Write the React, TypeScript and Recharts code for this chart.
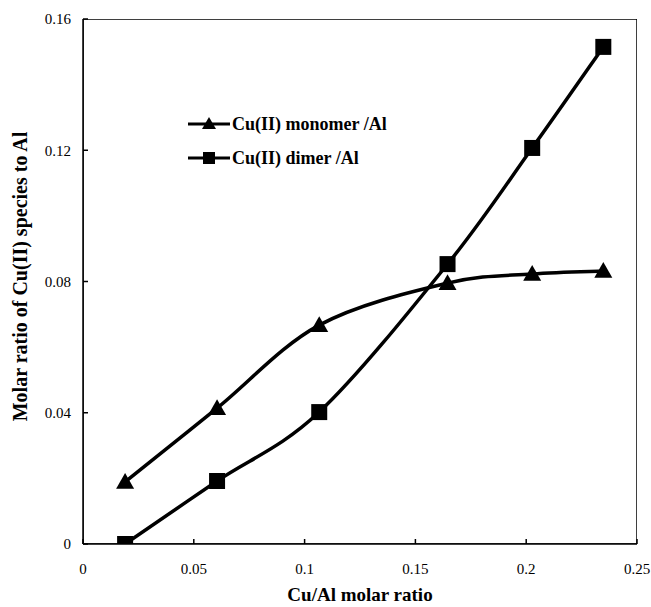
import React from "react";
import {
  LineChart,
  Line,
  XAxis,
  YAxis,
  ReferenceArea,
  Label,
} from "recharts";

const cuAlRatio = [0.019, 0.0605, 0.1066, 0.1645, 0.2027, 0.2348];
const monomer = [0.0189, 0.0414, 0.0667, 0.0795, 0.0823, 0.0832];
const dimer = [0.0, 0.0192, 0.0402, 0.0853, 0.1207, 0.1515];
const xTicks = [0, 0.05, 0.1, 0.15, 0.2, 0.25];
const yTicks = [0, 0.04, 0.08, 0.12, 0.16];
const seriesNames = ["Cu(II) monomer /Al", "Cu(II) dimer /Al"];

const data = cuAlRatio.map((x, i) => ({ x, monomer: monomer[i], dimer: dimer[i] }));

const FONT = '"Liberation Serif", "Times New Roman", serif';

// Excel-like smoothing (Catmull-Rom converted to cubic Bezier)
const excelSmooth: any = (context: any) => {
  let pts: [number, number][] = [];
  return {
    areaStart() {},
    areaEnd() {},
    lineStart() {
      pts = [];
    },
    lineEnd() {
      if (!pts.length) return;
      context.moveTo(pts[0][0], pts[0][1]);
      for (let i = 0; i < pts.length - 1; i++) {
        const p0 = pts[i - 1] || pts[i];
        const p1 = pts[i];
        const p2 = pts[i + 1];
        const p3 = pts[i + 2] || p2;
        context.bezierCurveTo(
          p1[0] + (p2[0] - p0[0]) / 6,
          p1[1] + (p2[1] - p0[1]) / 6,
          p2[0] - (p3[0] - p1[0]) / 6,
          p2[1] - (p3[1] - p1[1]) / 6,
          p2[0],
          p2[1]
        );
      }
    },
    point(x: number, y: number) {
      pts.push([+x, +y]);
    },
  };
};

const TriangleDot = (props: any) => {
  const { cx, cy, index } = props;
  if (cx == null || cy == null) return null;
  const s = 9;
  return (
    <path
      key={`t${index}`}
      d={`M${cx},${cy - s} L${cx + s},${cy + s * 0.75} L${cx - s},${cy + s * 0.75} Z`}
      fill="#000"
    />
  );
};

const SquareDot = (props: any) => {
  const { cx, cy, index } = props;
  if (cx == null || cy == null) return null;
  const s = 8;
  return <rect key={`s${index}`} x={cx - s} y={cy - s} width={2 * s} height={2 * s} fill="#000" />;
};

const XTick = (props: any) => {
  const { x, y, payload } = props;
  return (
    <text x={x} y={y} dy="0.71em" textAnchor="middle" fill="#000" fontFamily={FONT} fontSize={15}>
      {String(payload.value)}
    </text>
  );
};

const YTick = (props: any) => {
  const { x, y, payload } = props;
  return (
    <text x={x} y={y} dy="0.355em" textAnchor="end" fill="#000" fontFamily={FONT} fontSize={15}>
      {String(payload.value)}
    </text>
  );
};

const Legendish = () => (
  <div
    style={{
      position: "absolute",
      left: 188,
      top: 107,
      fontFamily: FONT,
      fontWeight: "bold",
      fontSize: 18,
      color: "#000",
    }}
  >
    {seriesNames.map((name, i) => (
      <div key={name} style={{ display: "flex", alignItems: "center", height: 34 }}>
        <svg width={42} height={20}>
          <line x1={0} y1={10} x2={42} y2={10} stroke="#000" strokeWidth={3} />
          {i === 0 ? (
            <path d="M21,3 L28,15 L14,15 Z" fill="#000" />
          ) : (
            <rect x={15} y={4} width={12} height={12} fill="#000" />
          )}
        </svg>
        <span style={{ marginLeft: 2 }}>{name}</span>
      </div>
    ))}
  </div>
);

export default function App() {
  return (
    <div style={{ position: "absolute", left: 0, top: 0, width: 651, height: 607, background: "#fff", fontFamily: FONT }}>
      <LineChart
        width={651}
        height={607}
        data={data}
        margin={{ top: 19, right: 14, left: 0, bottom: 0 }}
      >
        <XAxis
          dataKey="x"
          type="number"
          domain={[0, 0.25]}
          ticks={xTicks}
          allowDataOverflow
          height={63}
          stroke="#000"
          strokeWidth={1.5}
          tickSize={-5}
          tickMargin={24}
          tick={<XTick />}
        >
          <Label
            position="insideBottom"
            content={(p: any) => {
              const vb = p.viewBox;
              return (
                <text
                  x={vb.x + vb.width / 2}
                  y={601}
                  textAnchor="middle"
                  fontFamily={FONT}
                  fontWeight="bold"
                  fontSize={19}
                  fill="#000"
                >
                  Cu/Al molar ratio
                </text>
              );
            }}
          />
        </XAxis>
        <YAxis
          type="number"
          domain={[0, 0.16]}
          ticks={yTicks}
          allowDataOverflow
          width={83}
          stroke="#000"
          strokeWidth={1.5}
          tickSize={-5}
          tickMargin={17}
          tick={<YTick />}
        >
          <Label
            position="insideLeft"
            content={(p: any) => {
              const vb = p.viewBox;
              const cy = vb.y + vb.height / 2 - 5;
              return (
                <text
                  x={27}
                  y={cy}
                  transform={`rotate(-90 27 ${cy})`}
                  textAnchor="middle"
                  fontFamily={FONT}
                  fontWeight="bold"
                  fontSize={20}
                  fill="#000"
                >
                  Molar ratio of Cu(II) species to Al
                </text>
              );
            }}
          />
        </YAxis>
        <ReferenceArea
          x1={0}
          x2={0.25}
          y1={0}
          y2={0.16}
          fill="none"
          stroke="#000"
          strokeWidth={1.5}
          ifOverflow="hidden"
        />
        <Line
          dataKey="monomer"
          name={seriesNames[0]}
          type={excelSmooth}
          stroke="#000"
          strokeWidth={3.5}
          dot={TriangleDot}
          activeDot={false}
          isAnimationActive={false}
        />
        <Line
          dataKey="dimer"
          name={seriesNames[1]}
          type={excelSmooth}
          stroke="#000"
          strokeWidth={3.5}
          dot={SquareDot}
          activeDot={false}
          isAnimationActive={false}
        />
      </LineChart>
      <Legendish />
    </div>
  );
}
